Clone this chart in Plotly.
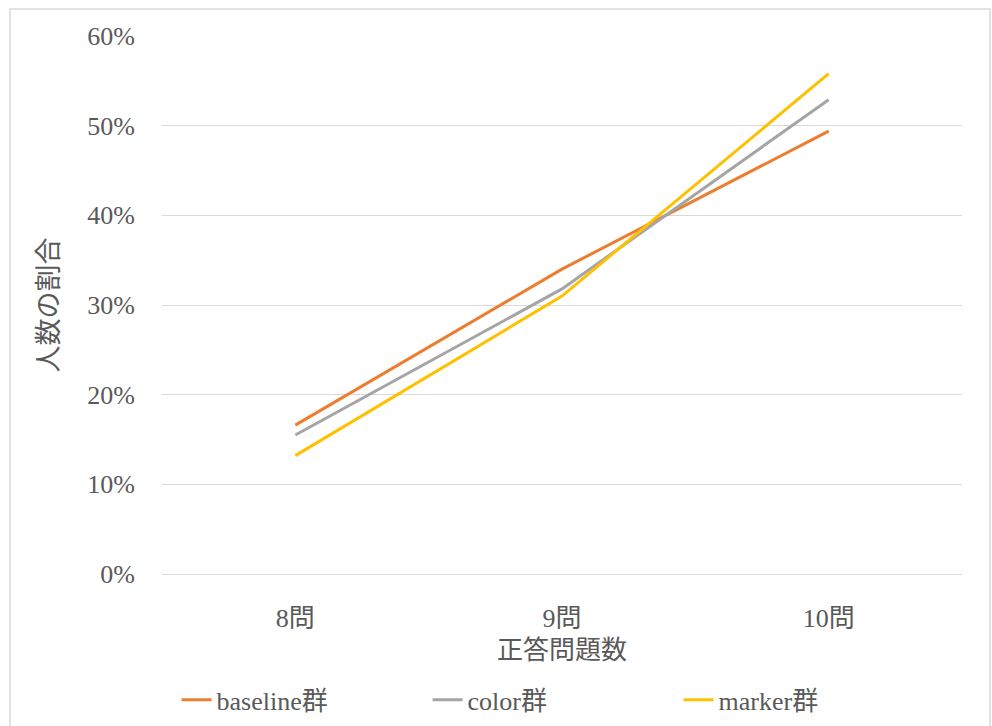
import plotly.graph_objects as go

categories = ["8問", "9問", "10問"]
baseline = [0.166, 0.340, 0.494]
color_grp = [0.155, 0.318, 0.529]
marker_grp = [0.132, 0.310, 0.558]
series_names = ["baseline群", "color群", "marker群"]
series_colors = ["#ED7D31", "#A5A5A5", "#FFC000"]
y_ticks = [0, 0.1, 0.2, 0.3, 0.4, 0.5, 0.6]
y_ticklabels = ["0%", "10%", "20%", "30%", "40%", "50%", "60%"]

FONT = "Liberation Serif, DejaVu Serif, Noto Sans CJK JP"
TXT = "#595959"

fig = go.Figure()
for name, vals, col in zip(series_names, [baseline, color_grp, marker_grp], series_colors):
    fig.add_trace(go.Scatter(x=categories, y=vals, name=name, mode="lines",
                             line=dict(color=col, width=3)))

fig.update_layout(
    width=992, height=726,
    margin=dict(l=162, r=30, t=36, b=152, autoexpand=False),
    paper_bgcolor="white", plot_bgcolor="white",
    font=dict(family=FONT, color=TXT, size=24),
    showlegend=True,
    legend=dict(orientation="h", xref="container", yref="container",
                x=0.178, xanchor="left", y=0.036, yanchor="middle",
                font=dict(size=26, color=TXT, family=FONT),
                entrywidth=206, entrywidthmode="pixels"),
    xaxis=dict(type="category", range=[-0.5, 2.5], showgrid=False, showline=False,
               automargin=False,
               ticks="", ticklabelstandoff=26, tickfont=dict(size=26, color=TXT),
               title=dict(text="正答問題数", font=dict(size=26, color=TXT), standoff=8)),
    yaxis=dict(range=[0, 0.6], tickvals=y_ticks, ticktext=y_ticklabels,
               showgrid=True, gridcolor="#D9D9D9", gridwidth=1,
               zeroline=True, zerolinecolor="#D9D9D9", zerolinewidth=1,
               showline=False, ticks="", ticklabelstandoff=26, automargin=False,
               tickfont=dict(size=26, color=TXT),
               title=dict(text="人数の割合", font=dict(size=27, color=TXT), standoff=20)),
    shapes=[dict(type="rect", xref="paper", yref="paper", x0=-0.19, x1=1.035,
                 y0=-0.32, y1=1.05, line=dict(color="#D9D9D9", width=1.5),
                 fillcolor="rgba(0,0,0,0)", layer="below")],
)

fig.write_html("out.html")
